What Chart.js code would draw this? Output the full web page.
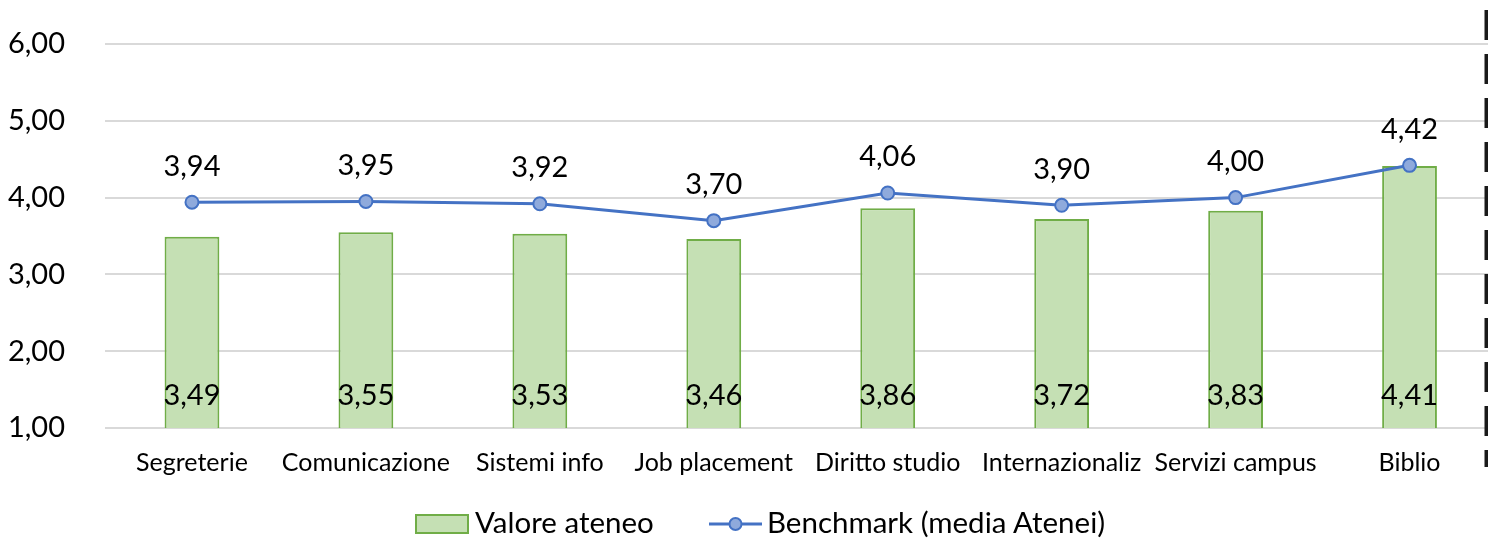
<!DOCTYPE html>
<html>
<head>
<meta charset="utf-8">
<script src="https://cdn.jsdelivr.net/npm/chart.js@4"></script>
<style>
  html, body { margin:0; padding:0; background:#fff; overflow:hidden; width:1488px; height:539px; }
  #wrap { position:absolute; left:0; top:0; width:1505px; height:539px; }
  #legend { position:absolute; top:504px; left:0; width:1488px; font-family:Lato, sans-serif; font-size:29.5px; color:#000; }
  .item { position:absolute; top:0; height:36px; line-height:36px; white-space:nowrap; }
  .item svg { vertical-align:middle; position:relative; top:-2px; margin-right:5px; }
</style>
</head>
<body>
<div id="wrap"><canvas id="c" width="1505" height="539"></canvas></div>
<div id="legend">
  <div class="item" style="left:415px;"><svg width="55" height="22"><rect x="1" y="2" width="52" height="18" fill="#C5E0B4" stroke="#70AD47" stroke-width="2"/></svg>Valore ateneo</div>
  <div class="item" style="left:709px;"><svg width="53" height="22"><line x1="0" y1="11" x2="53" y2="11" stroke="#4472C4" stroke-width="3"/><circle cx="26.5" cy="11" r="6" fill="#8FAADC" stroke="#4472C4" stroke-width="2"/></svg>Benchmark (media Atenei)</div>
</div>
<script>
const categories = ["Segreterie","Comunicazione","Sistemi info","Job placement","Diritto studio","Internazionaliz","Servizi campus","Biblio"];
const valoreAteneo = [3.49,3.55,3.53,3.46,3.86,3.72,3.83,4.41];
const benchmark = [3.94,3.95,3.92,3.70,4.06,3.90,4.00,4.42];
const yTicks = [1,2,3,4,5,6];

const fmt = v => v.toFixed(2).replace('.', ',');
const FONT = 'Lato, sans-serif';

const labelsPlugin = {
  id: 'labelsPlugin',
  afterDatasetsDraw(chart) {
    const ctx = chart.ctx;
    ctx.save();
    ctx.font = '29px ' + FONT;
    ctx.fillStyle = '#000';
    ctx.textAlign = 'center';
    ctx.textBaseline = 'middle';
    const bottom = chart.scales.y.getPixelForValue(chart.scales.y.min);
    const barMeta = chart.getDatasetMeta(0);
    barMeta.data.forEach((el, i) => {
      ctx.fillText(fmt(valoreAteneo[i]), el.x, bottom - 32);
    });
    const lineMeta = chart.getDatasetMeta(1);
    lineMeta.data.forEach((el, i) => {
      ctx.fillText(fmt(benchmark[i]), el.x, el.y - 36);
    });
    // dashed border line at right edge
    ctx.strokeStyle = '#1a1a1a';
    ctx.lineWidth = 5;
    ctx.setLineDash([30, 14]);
    ctx.beginPath();
    ctx.moveTo(1487, 10);
    ctx.lineTo(1487, 467);
    ctx.stroke();
    ctx.restore();
  }
};

new Chart(document.getElementById('c'), {
  data: {
    labels: categories,
    datasets: [
      {
        type: 'bar',
        label: 'Valore ateneo',
        data: valoreAteneo,
        backgroundColor: '#C5E0B4',
        borderColor: '#70AD47',
        borderWidth: 2,
        categoryPercentage: 1,
        barPercentage: 0.315,
        order: 2
      },
      {
        type: 'line',
        label: 'Benchmark (media Atenei)',
        data: benchmark,
        borderColor: '#4472C4',
        borderWidth: 3,
        pointBackgroundColor: '#8FAADC',
        pointBorderColor: '#4472C4',
        pointBorderWidth: 2,
        pointRadius: 6.5,
        tension: 0,
        order: 1
      }
    ]
  },
  options: {
    responsive: false,
    animation: false,
    layout: { padding: { top: 44, bottom: 51, left: 0, right: 0 } },
    plugins: { legend: { display: false }, tooltip: { enabled: false } },
    scales: {
      x: {
        offset: true,
        grid: { display: false, drawTicks: false },
        border: { display: false },
        afterFit(scale) { scale.height = 60; },
        ticks: { font: { family: FONT, size: 25 }, color: '#000', padding: 20, maxRotation: 0, autoSkip: false }
      },
      y: {
        min: 1,
        max: 6,
        afterBuildTicks(scale) { scale.ticks = yTicks.map(v => ({ value: v })); },
        afterFit(scale) { scale.width = 105; },
        grid: { color: '#D9D9D9', lineWidth: 2, drawTicks: true, tickLength: 40, tickColor: 'rgba(0,0,0,0)' },
        border: { display: false },
        ticks: { font: { family: FONT, size: 29 }, color: '#000', padding: 0, callback: v => fmt(v) }
      }
    }
  },
  plugins: [labelsPlugin]
});
</script>
</body>
</html>
